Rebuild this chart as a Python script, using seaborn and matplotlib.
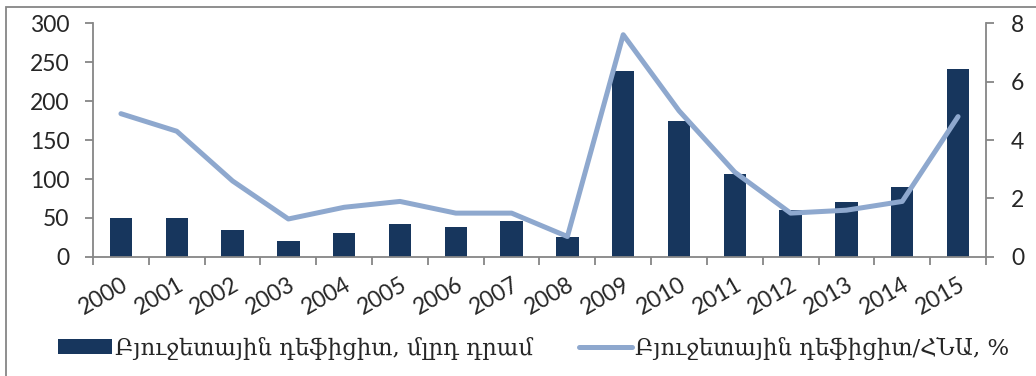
import matplotlib
matplotlib.use("Agg")
import matplotlib.pyplot as plt
import seaborn as sns
import numpy as np
import pandas as pd
from matplotlib.patches import Rectangle
from matplotlib.lines import Line2D
from matplotlib.ticker import FixedLocator, NullFormatter

years = ["2000", "2001", "2002", "2003", "2004", "2005", "2006", "2007",
         "2008", "2009", "2010", "2011", "2012", "2013", "2014", "2015"]
deficit_bn = [50, 50, 35, 20, 31, 42, 39, 46, 25, 239, 174, 106, 60, 71, 90, 241]
deficit_gdp = [4.9, 4.3, 2.6, 1.3, 1.7, 1.9, 1.5, 1.5, 0.7, 7.6, 5.0, 2.9, 1.5, 1.6, 1.9, 4.8]
bar_label = "Բյուջետային դեֆիցիտ, մլրդ դրամ"
line_label = "Բյուջետային դեֆիցիտ/ՀՆԱ, %"

BAR_C = "#17365D"
LINE_C = "#8EA8CE"
SPINE_C = "#868686"

sns.set_theme(style="white")
plt.rcParams['font.family'] = ['Lato', 'DejaVu Sans']

df = pd.DataFrame({"year": years, "bn": deficit_bn, "pct": deficit_gdp,
                   "pos": np.arange(len(years))})

fig = plt.figure(figsize=(10.36, 3.76), dpi=100)
ax = fig.add_axes([0.0898, 0.3165, 0.9517 - 0.0898, 0.9388 - 0.3165])

sns.barplot(data=df, x="year", y="bn", color=BAR_C, width=0.4, ax=ax,
            saturation=1, edgecolor="none")
ax.set_xlim(-0.5, len(years) - 0.5)
ax.set_ylim(0, 300)
ax.set_yticks([0, 50, 100, 150, 200, 250, 300])

ax2 = ax.twinx()
sns.lineplot(data=df, x="pos", y="pct", color=LINE_C, linewidth=3.6, ax=ax2)
ax2.set_ylim(0, 8)
ax2.set_yticks([0, 2, 4, 6, 8])
ax2.set_xlim(-0.5, len(years) - 0.5)

for a in (ax, ax2):
    a.set_xlabel("")
    a.set_ylabel("")
    for s in a.spines.values():
        s.set_visible(False)

ax.spines['left'].set_visible(True)
ax.spines['bottom'].set_visible(True)
ax.spines['left'].set_color(SPINE_C)
ax.spines['bottom'].set_color(SPINE_C)
ax.spines['left'].set_linewidth(1.3)
ax.spines['bottom'].set_linewidth(1.3)
ax2.spines['right'].set_visible(True)
ax2.spines['right'].set_color(SPINE_C)
ax2.spines['right'].set_linewidth(1.3)

# x: labels at centers, tick marks at boundaries
ax.set_xticks(np.arange(len(years)))
ax.set_xticklabels(years, rotation=30, ha="right", rotation_mode="anchor")
ax.tick_params(axis="x", which="major", length=0, pad=12, labelsize=16.5)
ax.xaxis.set_minor_locator(FixedLocator(np.arange(-0.5, len(years), 1.0)))
ax.xaxis.set_minor_formatter(NullFormatter())
ax.tick_params(axis="x", which="minor", length=6, width=1.3, color=SPINE_C, direction="out", bottom=True)

ax.tick_params(axis="y", left=True, length=6, width=1.3, color=SPINE_C, direction="out",
               pad=11, labelsize=16.5)
ax2.tick_params(axis="y", right=True, length=6, width=1.3, color=SPINE_C, direction="out",
                pad=12, labelsize=16.5)
ax2.tick_params(axis="x", bottom=False, labelbottom=False)

# chart-area border (left & top visible, rest clipped off)
fig.patches.append(Rectangle((6 / 1036, -0.1), 1.2, 1 - 7 / 376 + 0.1,
                             transform=fig.transFigure, fill=False,
                             edgecolor=SPINE_C, linewidth=1.3))

handles = [Rectangle((0, 0), 1, 1, facecolor=BAR_C, edgecolor="none"),
           Line2D([0], [0], color=LINE_C, linewidth=3.6)]
leg = fig.legend(handles, [bar_label, line_label], loc="center left",
                 bbox_to_anchor=(58 / 1036, 1 - 348 / 376), ncol=2, frameon=False,
                 borderpad=0, borderaxespad=0,
                 handlelength=2.35, handleheight=0.65, handletextpad=0.15,
                 columnspacing=2.0,
                 prop={"family": ["DejaVu Serif"], "size": 16.4})

fig.savefig("out.png", dpi=100)
